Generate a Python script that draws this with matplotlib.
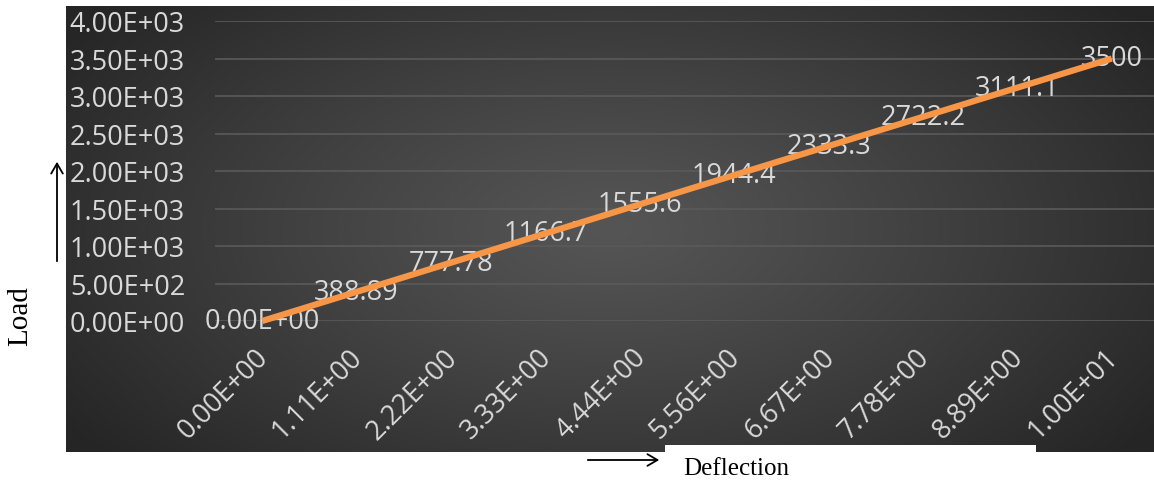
import numpy as np
import matplotlib
matplotlib.use("Agg")
import matplotlib.pyplot as plt
from matplotlib.patches import FancyArrowPatch, Rectangle
from matplotlib.transforms import ScaledTranslation

# ---- data ----
categories = ["0.00E+00", "1.11E+00", "2.22E+00", "3.33E+00", "4.44E+00",
              "5.56E+00", "6.67E+00", "7.78E+00", "8.89E+00", "1.00E+01"]
load = [0.0, 388.89, 777.78, 1166.7, 1555.6, 1944.4, 2333.3, 2722.2, 3111.1, 3500.0]
point_labels = ["0.00E+00", "388.89", "777.78", "1166.7", "1555.6",
                "1944.4", "2333.3", "2722.2", "3111.1", "3500"]
y_ticks = [0, 500, 1000, 1500, 2000, 2500, 3000, 3500, 4000]
y_tick_labels = ["0.00E+00", "5.00E+02", "1.00E+03", "1.50E+03", "2.00E+03",
                 "2.50E+03", "3.00E+03", "3.50E+03", "4.00E+03"]

W, H = 1154, 481
FS = 19.5
fig = plt.figure(figsize=(W / 100, H / 100), dpi=100)
fig.patch.set_facecolor("white")

def px(x0, y0, x1, y1):
    # pixel box (top-left origin) -> figure fraction rect
    return [x0 / W, (H - y1) / H, (x1 - x0) / W, (y1 - y0) / H]

# ---- dark gradient background ----
bg = fig.add_axes(px(66, 7, 1154, 453))
bg.set_axis_off()
nx, ny = 400, 200
xx, yy = np.meshgrid(np.linspace(0, 1, nx), np.linspace(0, 1, ny))
r = np.sqrt(((xx - 0.50) / 0.62) ** 2 + ((yy - 0.50) / 0.78) ** 2)
r = np.clip(r, 0, 1) ** 1.15
c_center = np.array([0x55, 0x55, 0x55]) / 255
c_edge = np.array([0x25, 0x25, 0x25]) / 255
img = c_center[None, None, :] * (1 - r[..., None]) + c_edge[None, None, :] * r[..., None]
bg.imshow(img, aspect="auto", extent=[0, 1, 0, 1], interpolation="bilinear")
bg.set_xlim(0, 1)
bg.set_ylim(0, 1)

# ---- plot axes ----
ax = fig.add_axes(px(215, 22, 1159, 322))
ax.patch.set_alpha(0)
x = np.arange(len(categories))
ax.set_xlim(-0.5, len(categories) - 0.5)
ax.set_ylim(0, 4000)
for s in ax.spines.values():
    s.set_visible(False)

ax.set_yticks(y_ticks)
ax.yaxis.grid(True, color="#5a5a5a", lw=1.2, zorder=1)
ax.set_axisbelow(True)
ax.set_yticklabels(y_tick_labels, fontsize=FS, family="Open Sans", color="#d9d9d9", ha="left")
ax.tick_params(axis="y", length=0, pad=104.5)

ax.set_xticks(x)
ax.set_xticklabels(categories, fontsize=FS, family="Open Sans", color="#d9d9d9",
                   rotation=45, ha="right", va="center", rotation_mode="anchor")
ax.tick_params(axis="x", length=0, pad=23)
shift = ScaledTranslation(2 / 100, 0, fig.dpi_scale_trans)
for lab in ax.get_xticklabels():
    lab.set_transform(lab.get_transform() + shift)

for xi, yi, lab in zip(x, load, point_labels):
    ax.text(xi, yi, lab, fontsize=FS, family="Open Sans", color="#d9d9d9",
            ha="center", va="center", zorder=3, clip_on=False)

ax.plot(x, load, color="#F79646", lw=4.5, solid_capstyle="butt", zorder=4, clip_on=False)

# ---- outer annotations ----
fig.add_artist(Rectangle((665 / W, 0), (1036 - 665) / W, (H - 446) / H,
                         transform=fig.transFigure, facecolor="white", edgecolor="none", zorder=5))
fig.text(20 / W, 1 - 316 / H, "Load", rotation=90, fontsize=21, family="Liberation Serif",
         ha="center", va="center", color="black")
fig.add_artist(FancyArrowPatch((57 / W, 1 - 265 / H), (57 / W, 1 - 160 / H),
                               transform=fig.transFigure, arrowstyle="->,head_length=0.6,head_width=0.35",
                               color="black", lw=1.3, mutation_scale=12, zorder=6))
fig.text(683 / W, 1 - 469 / H, "Deflection", fontsize=18, family="Liberation Serif",
         ha="left", va="center", color="black", zorder=7)
fig.add_artist(FancyArrowPatch((585 / W, 1 - 461 / H), (662 / W, 1 - 461 / H),
                               transform=fig.transFigure, arrowstyle="->,head_length=0.6,head_width=0.35",
                               color="black", lw=1.3, mutation_scale=12, zorder=6))

fig.savefig("out.png", dpi=100, facecolor="white")
